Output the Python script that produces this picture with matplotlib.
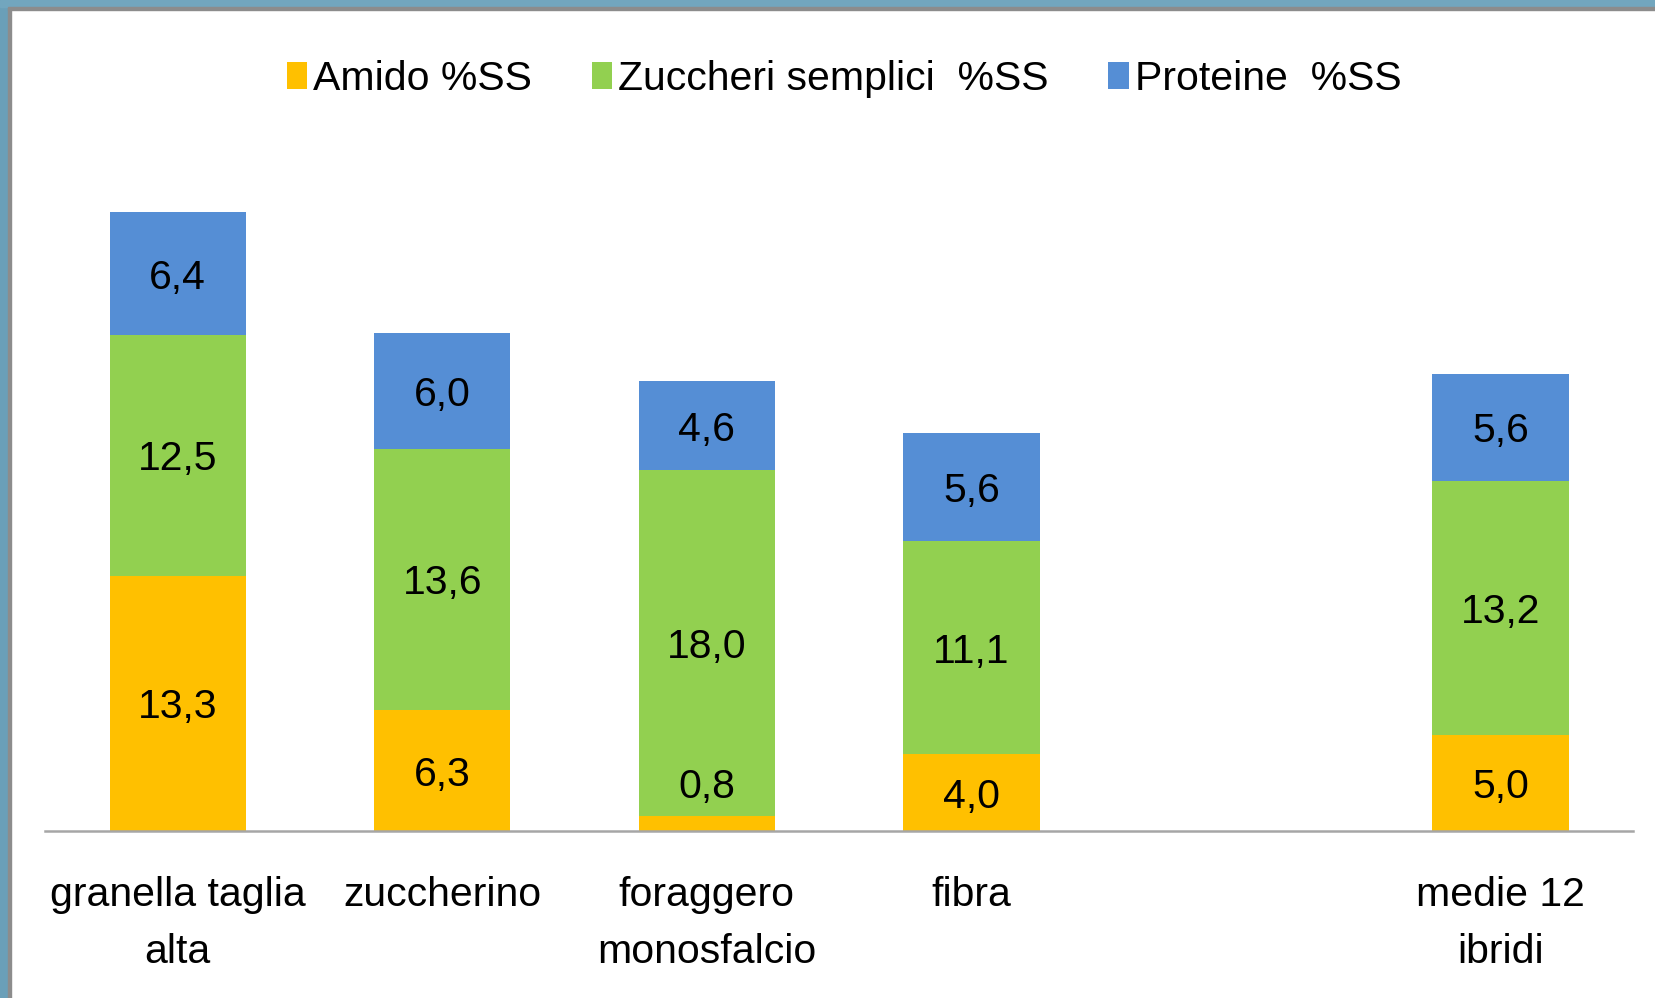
import numpy as np
import matplotlib
matplotlib.use("Agg")
import matplotlib.pyplot as plt
from matplotlib.patches import Rectangle

plt.rcParams['font.family'] = ['Liberation Sans', 'DejaVu Sans']

# data
categories = ['granella taglia\nalta', 'zuccherino', 'foraggero\nmonosfalcio', 'fibra', 'medie 12\nibridi']
slots = [0, 1, 2, 3, 5]   # slot 4 is left empty in the original
amido = [13.3, 6.3, 0.8, 4.0, 5.0]
zuccheri = [12.5, 13.6, 18.0, 11.1, 13.2]
proteine = [6.4, 6.0, 4.6, 5.6, 5.6]
series_names = ['Amido %SS', 'Zuccheri semplici  %SS', 'Proteine  %SS']
colors = ['#FFC000', '#92D050', '#558ED5']

FS = 29.5

fig = plt.figure(figsize=(16.55, 9.98), dpi=100)
ax = fig.add_axes([43/1568, 1 - 788/946, (1547 - 43)/1568, (788 - 150)/946])

bottom = np.zeros(len(slots))
for name, vals, col in zip(series_names, [amido, zuccheri, proteine], colors):
    vals = np.array(vals)
    ax.bar(slots, vals, bottom=bottom, width=0.515, color=col, label=name, zorder=2)
    for x, b, v in zip(slots, bottom, vals):
        y = b + v / 2 if v >= 1 else b + v + 1.7
        ax.text(x, y, f"{v:.1f}".replace('.', ','), ha='center', va='center_baseline',
                fontsize=FS, color='black', zorder=3)
    bottom += vals

ax.set_xlim(-0.5, 5.5)
ax.set_ylim(0, 35)
ax.set_xticks(slots)
ax.set_xticklabels(categories, fontsize=FS, linespacing=1.65)
ax.tick_params(axis='x', length=0, pad=32)
ax.set_yticks([])
for s in ['top', 'right', 'left']:
    ax.spines[s].set_visible(False)
ax.spines['bottom'].set_color('#A6A6A6')
ax.spines['bottom'].set_linewidth(1.8)

fig.legend(loc='center', bbox_to_anchor=(0.51, 0.921), ncol=3, frameon=False,
           fontsize=FS, handlelength=0.5, handleheight=0.65, handletextpad=0.15,
           columnspacing=1.45)

# frame at top and left, like the source screenshot
fig.patches.append(Rectangle((0, 0), 8/1655, 1, transform=fig.transFigure,
                             color='#6A9FB8', zorder=5))
fig.patches.append(Rectangle((8/1655, 0), 2.5/1655, 1 - 7/998, transform=fig.transFigure,
                             color='#8C8C8C', zorder=5))
fig.patches.append(Rectangle((0, 1 - 7/998), 1, 7/998, transform=fig.transFigure,
                             color='#72A6BE', zorder=5))
fig.patches.append(Rectangle((8/1655, 1 - 10/998), 1, 3/998, transform=fig.transFigure,
                             color='#8C8C8C', zorder=5))

fig.savefig('out.png', dpi=100)
